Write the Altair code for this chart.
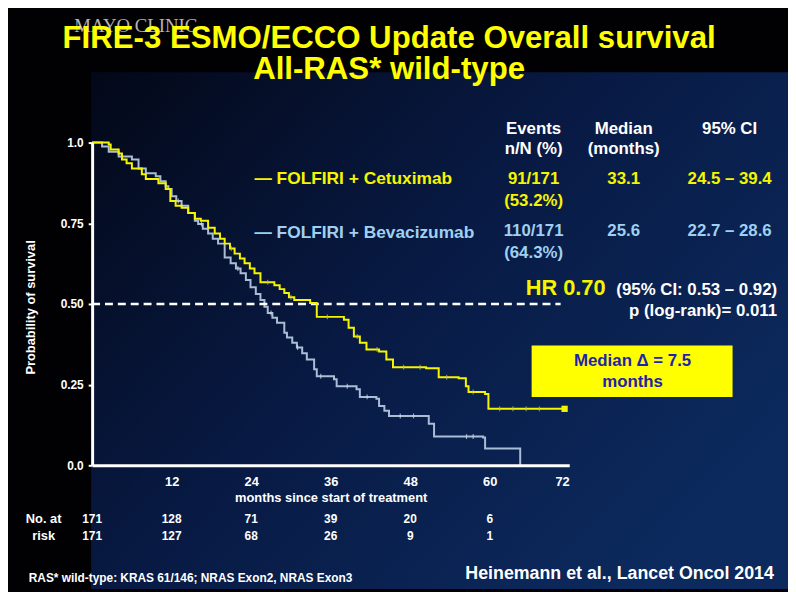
import altair as alt
import pandas as pd

# ---------------- data ----------------
months_cetux = [0.0, 2.5, 2.8, 4.0, 4.5, 5.2, 6.0, 7.5, 8.1, 10.0, 11.1, 11.8, 12.6, 13.5, 14.5, 15.5,
                16.4, 17.5, 18.5, 19.3, 20.0, 20.8, 21.5, 22.3, 23.0, 23.8, 24.5, 25.4, 27.5, 28.3,
                29.0, 29.7, 30.5, 32.9, 33.9, 38.0, 38.7, 39.5, 40.4, 41.4, 43.3, 44.4, 45.4, 50.4,
                52.3, 55.3, 56.4, 56.8, 59.3, 59.8, 71.3]
surv_cetux = [1.000, 0.994, 0.979, 0.966, 0.948, 0.936, 0.920, 0.902, 0.887, 0.874, 0.856, 0.819, 0.804,
              0.798, 0.782, 0.764, 0.758, 0.736, 0.718, 0.702, 0.687, 0.672, 0.656, 0.641, 0.626, 0.610,
              0.595, 0.567, 0.558, 0.546, 0.534, 0.521, 0.512, 0.503, 0.460, 0.451, 0.426, 0.399, 0.380,
              0.359, 0.353, 0.328, 0.304, 0.301, 0.273, 0.270, 0.245, 0.227, 0.221, 0.175, 0.175]

months_bev = [0.0, 1.5, 2.5, 4.0, 6.0, 7.0, 8.1, 9.6, 10.3, 11.1, 11.5, 12.0, 12.7, 13.5, 14.5, 15.5,
              16.0, 16.7, 17.5, 18.2, 19.0, 20.0, 20.9, 21.7, 22.4, 23.2, 23.9, 24.7, 25.4, 26.0, 26.5,
              27.2, 27.9, 29.0, 29.4, 30.2, 30.9, 31.7, 32.4, 33.5, 33.9, 36.5, 36.9, 39.9, 40.4, 42.9,
              43.3, 44.1, 44.8, 50.4, 50.8, 51.6, 59.0, 59.3, 64.6]
surv_bev = [1.000, 0.988, 0.972, 0.957, 0.948, 0.920, 0.905, 0.896, 0.880, 0.865, 0.856, 0.834, 0.819,
            0.804, 0.782, 0.758, 0.748, 0.733, 0.718, 0.702, 0.687, 0.644, 0.626, 0.610, 0.595, 0.574,
            0.552, 0.531, 0.512, 0.491, 0.472, 0.457, 0.442, 0.411, 0.396, 0.380, 0.365, 0.347, 0.328,
            0.298, 0.276, 0.267, 0.245, 0.236, 0.212, 0.206, 0.184, 0.169, 0.153, 0.153, 0.129, 0.089,
            0.086, 0.052, 0.0]

censor_cetux = [21.0, 26.5, 30.0, 35.5, 40.0, 43.0, 47.0, 49.5, 53.5, 57.5, 61.5, 63.5, 65.5, 67.5]
censor_bev = [13.0, 16.5, 22.0, 27.0, 31.0, 34.5, 38.5, 41.5, 46.5, 48.5, 56.5, 57.5]

risk_months = [0, 12, 24, 36, 48, 60]
risk_cetux = [171, 128, 71, 39, 20, 6]
risk_bev = [171, 127, 68, 26, 9, 1]

x_ticks = [12, 24, 36, 48, 60, 72]
y_ticks = [0, 0.25, 0.5, 0.75, 1.0]
median_line = 0.5
median_line_end = 70.7

YEL = "#f5f500"
BLUE_LINE = "#a9bdd6"
BLUE_TXT = "#9fd0f2"
WHITE = "#ffffff"
FONT = "Liberation Sans"


def step_value(times, surv, t):
    v = surv[0]
    for ti, si in zip(times, surv):
        if ti <= t:
            v = si
    return v


curve_c = pd.DataFrame({"t": months_cetux, "s": surv_cetux})
curve_b = pd.DataFrame({"t": months_bev, "s": surv_bev})
cens_c = pd.DataFrame({"t": censor_cetux, "s": [step_value(months_cetux, surv_cetux, t) for t in censor_cetux]})
cens_b = pd.DataFrame({"t": censor_bev, "s": [step_value(months_bev, surv_bev, t) for t in censor_bev]})
end_c = pd.DataFrame({"t": [months_cetux[-1]], "s": [surv_cetux[-1]]})
rule_df = pd.DataFrame({"t": [0.0], "t2": [median_line_end], "s": [median_line]})
risk_df = pd.DataFrame({"t": risk_months, "n1": [str(v) for v in risk_cetux], "n2": [str(v) for v in risk_bev]})

one = pd.DataFrame({"a": [0]})

xscale = alt.Scale(domain=[0, 72], nice=False, zero=True)
yscale = alt.Scale(domain=[0, 1], nice=False)

x_axis = alt.Axis(
    values=x_ticks, title="months since start of treatment", grid=False, zindex=2,
    domainColor=WHITE, domainWidth=3, tickSize=0, labelColor=WHITE, labelFont=FONT,
    labelFontWeight="bold", labelFontSize=13, labelPadding=10, labelBaseline="top",
    titleColor=WHITE, titleFont=FONT, titleFontWeight="bold", titleFontSize=13, titlePadding=4,
)
y_axis = alt.Axis(
    values=y_ticks, title="Probability of survival", grid=False, zindex=2,
    labelExpr="datum.value == 1 ? '1.0' : (datum.value == 0 ? '0.0' : format(datum.value, '.2f'))",
    domainColor=WHITE, domainWidth=3, tickSize=4, tickWidth=2, tickColor=WHITE,
    labelColor=WHITE, labelFont=FONT, labelFontWeight="bold", labelFontSize=12, labelPadding=5,
    titleColor=WHITE, titleFont=FONT, titleFontWeight="bold", titleFontSize=13,
    titleX=-62, titleY=166, titleAngle=270, titleAlign="center", titleBaseline="middle",
)


def X():
    return alt.X("t:Q", scale=xscale, axis=x_axis)


def Y():
    return alt.Y("s:Q", scale=yscale, axis=y_axis)


def txt(text, x, y, size=17, color=WHITE, align="center", baseline="middle", font=FONT, weight="bold"):
    return alt.Chart(one).mark_text(
        text=text, font=font, fontSize=size, fontWeight=weight, color=color,
        align=align, baseline=baseline,
    ).encode(x=alt.value(x), y=alt.value(y))


# ---------------- background ----------------
gradient = {
    "gradient": "linear", "x1": 0, "y1": 0, "x2": 1, "y2": 0.7,
    "stops": [
        {"offset": 0, "color": "#030818"},
        {"offset": 0.5, "color": "#081a44"},
        {"offset": 1, "color": "#0c2a5e"},
    ],
}
bg = alt.Chart(one).mark_rect(fill=gradient, strokeWidth=0).encode(
    x=alt.value(-1), x2=alt.value(703), y=alt.value(-71), y2=alt.value(451)
)

# ---------------- curves ----------------
dash = alt.Chart(rule_df).mark_rule(color=WHITE, strokeWidth=2.5, strokeDash=[8, 5]).encode(
    x=X(), x2="t2:Q", y=Y()
)
line_b = alt.Chart(curve_b).mark_line(interpolate="step-after", color=BLUE_LINE, strokeWidth=2).encode(
    x=X(), y=Y()
)
line_c = alt.Chart(curve_c).mark_line(interpolate="step-after", color=YEL, strokeWidth=2).encode(
    x=X(), y=Y()
)
tick_b = alt.Chart(cens_b).mark_tick(orient="vertical", size=5, thickness=1.2, color="#d6dde6").encode(x=X(), y=Y())
tick_c = alt.Chart(cens_c).mark_tick(orient="vertical", size=5, thickness=1.2, color="#b9b98a").encode(x=X(), y=Y())
end_mark = alt.Chart(end_c).mark_square(size=40, color=YEL, opacity=1).encode(x=X(), y=Y())

risk1 = alt.Chart(risk_df).mark_text(font=FONT, fontSize=12, fontWeight="bold", color=WHITE).encode(
    x=X(), y=alt.value(380), text="n1:N"
)
risk2 = alt.Chart(risk_df).mark_text(font=FONT, fontSize=12, fontWeight="bold", color=WHITE).encode(
    x=X(), y=alt.value(397), text="n2:N"
)

# ---------------- annotations ----------------
box = alt.Chart(one).mark_rect(color="#ffff00").encode(
    x=alt.value(444), x2=alt.value(647), y=alt.value(205), y2=alt.value(257)
)

texts = [
    txt("MAYO CLINIC", -18, -112, size=19, color="#b4b4b4", align="left", baseline="alphabetic",
        font="Liberation Serif", weight="normal"),
    txt("FIRE-3 ESMO/ECCO Update Overall survival", 300, -96, size=31.5, color="#ffff00", baseline="alphabetic"),
    txt("All-RAS* wild-type", 300, -64, size=31.5, color="#ffff00", baseline="alphabetic"),
    txt("Events", 446, -14),
    txt("n/N (%)", 446, 7),
    txt("Median", 537, -14),
    txt("(months)", 537, 7),
    txt("95% CI", 644, -14),
    txt("— FOLFIRI + Cetuximab", 164, 37, size=17.5, color=YEL, align="left"),
    txt("91/171", 446, 37, color=YEL),
    txt("(53.2%)", 446, 59, color=YEL),
    txt("33.1", 537, 37, color=YEL),
    txt("24.5 – 39.4", 644, 37, color=YEL),
    txt("— FOLFIRI + Bevacizumab", 164, 91, size=17.5, color=BLUE_TXT, align="left"),
    txt("110/171", 446, 89, color=BLUE_TXT),
    txt("(64.3%)", 446, 112, color=BLUE_TXT),
    txt("25.6", 537, 89, color=BLUE_TXT),
    txt("22.7 – 28.6", 644, 89, color=BLUE_TXT),
    txt("HR 0.70", 438, 154, size=22, color=YEL, align="left", baseline="alphabetic"),
    txt("(95% CI: 0.53 – 0.92)", 692, 154, align="right", baseline="alphabetic"),
    txt("p (log-rank)= 0.011", 692, 175, align="right", baseline="alphabetic"),
    txt("Median Δ = 7.5", 546, 221, color="#1f22b0"),
    txt("months", 546, 242, color="#1f22b0"),
    txt("No. at", -49, 380, size=13),
    txt("risk", -49, 397, size=13),
    txt("RAS* wild-type: KRAS 61/146; NRAS Exon2, NRAS Exon3", -64, 440, size=12, align="left"),
    txt("Heinemann et al., Lancet Oncol 2014", 377, 436, size=18, align="left"),
]

chart = alt.layer(
    bg, line_b, dash, line_c, tick_b, tick_c, end_mark, risk1, risk2, box, *texts
).properties(
    width=482, height=326,
    padding={"left": 85, "top": 133, "right": 221, "bottom": 125},
    autosize=alt.AutoSizeParams(type="none"),
).configure(
    background="#010104",
).configure_view(
    stroke=None,
)

chart.save("out.html", embed_options={"renderer": "svg", "actions": False})
